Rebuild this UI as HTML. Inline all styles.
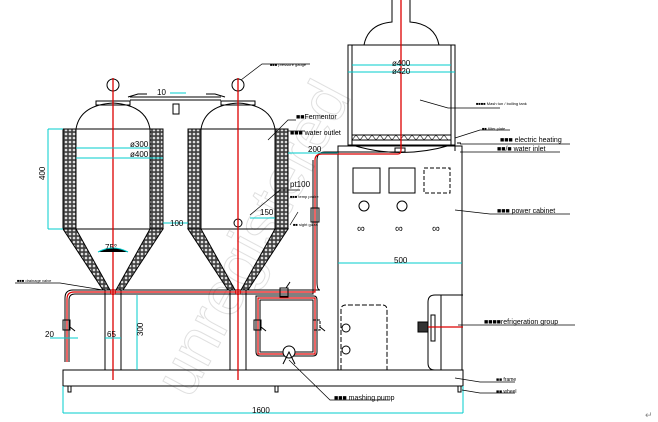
<!DOCTYPE html>
<html><head><meta charset="utf-8"><style>
html,body{margin:0;padding:0;background:#fff;}
svg{display:block;}
text{font-family:"Liberation Sans","Noto Sans CJK SC",sans-serif;}
</style></head><body>
<svg width="658" height="422" viewBox="0 0 658 422" xmlns="http://www.w3.org/2000/svg">
<defs>
<pattern id="hex" width="4" height="4" patternUnits="userSpaceOnUse">
<rect width="4" height="4" fill="#444"/>
<circle cx="2" cy="2" r="1.3" fill="#ddd"/>
</pattern>
</defs>
<text transform="translate(190 400) rotate(-62)" font-size="62" fill="none" stroke="#e0e0e0" stroke-width="1">unregistered</text>
<g fill="none" stroke="#000" stroke-width="1">
<path d="M76 129 Q80 105 113 103 Q146 105 150 129"/>
<rect x="63" y="129" width="13" height="100" fill="url(#hex)"/>
<rect x="150" y="129" width="13" height="100" fill="url(#hex)"/>
<polygon points="63,229 76,229 110,290 103,290" fill="url(#hex)"/>
<polygon points="150,229 163,229 123,290 116,290" fill="url(#hex)"/>
<line x1="76" y1="129" x2="150" y2="129"/><line x1="76" y1="229" x2="150" y2="229"/>
<circle cx="113" cy="85" r="6"/>
<rect x="96" y="101" width="34" height="4"/>
<path d="M201 129 Q205 105 238 103 Q271 105 275 129"/>
<rect x="188" y="129" width="13" height="100" fill="url(#hex)"/>
<rect x="275" y="129" width="13" height="100" fill="url(#hex)"/>
<polygon points="188,229 201,229 235,290 228,290" fill="url(#hex)"/>
<polygon points="275,229 288,229 248,290 241,290" fill="url(#hex)"/>
<line x1="201" y1="129" x2="275" y2="129"/><line x1="201" y1="229" x2="275" y2="229"/>
<circle cx="238" cy="85" r="6"/>
<rect x="221" y="101" width="34" height="4"/>
<circle cx="238" cy="223" r="4"/>
<line x1="130" y1="97" x2="221" y2="97"/><line x1="130" y1="100" x2="221" y2="100"/>
<rect x="173" y="104" width="6" height="10"/>
<path d="M128 97 l10 -3 h9 M225 97 l-10 -3 h-9"/>
<line x1="105" y1="290" x2="105" y2="370"/><line x1="121" y1="290" x2="121" y2="370"/>
<line x1="230" y1="290" x2="230" y2="370"/><line x1="246" y1="290" x2="246" y2="370"/>
<rect x="63" y="370" width="400" height="16"/>
<rect x="68" y="386" width="3" height="6"/><rect x="275" y="386" width="3" height="6"/><rect x="458" y="386" width="3" height="6"/>
<rect x="338" y="146" width="124" height="224"/>
<rect x="353" y="168" width="27" height="25"/><rect x="389" y="168" width="26" height="25"/><rect x="424" y="168" width="26" height="25" stroke-dasharray="4 2"/>
<circle cx="364" cy="206" r="5"/><circle cx="402" cy="206" r="5"/>
<text x="357" y="232" font-size="11" fill="#000" stroke="none">∞</text>
<text x="395" y="232" font-size="11" fill="#000" stroke="none">∞</text>
<text x="432" y="232" font-size="11" fill="#000" stroke="none">∞</text>
<path d="M341 370 V310 Q341 305 346 305 H382 Q387 305 387 310 V370" stroke-dasharray="5 2"/>
<circle cx="346" cy="328" r="4"/><circle cx="346" cy="350" r="4"/>
<path d="M463 295 H435 Q428 295 428 302 V363 Q428 370 435 370 H463"/>
<line x1="441" y1="295" x2="441" y2="370"/>
<rect x="431" y="315" width="4" height="26"/>
<rect x="418" y="322" width="10" height="10" fill="#333"/>
<rect x="348" y="45" width="107" height="100"/>
<line x1="352" y1="45" x2="352" y2="145"/><line x1="451" y1="45" x2="451" y2="145"/>
<path d="M364 45 Q368 24 392 22 V0 M439 45 Q435 24 410 22 V0"/>
<rect x="352" y="135" width="99" height="5"/>
<path d="M352 140 l4 -5 l4 5 l4 -5 l4 5 l4 -5 l4 5 l4 -5 l4 5 l4 -5 l4 5 l4 -5 l4 5 l4 -5 l4 5 l4 -5 l4 5 l4 -5 l4 5 l4 -5 l4 5 l4 -5 l4 5 l4 -5 l4 5" stroke-width="0.6"/>
<path d="M352 145 Q401 160 451 145"/>
<rect x="395" y="148" width="10" height="4"/>
<path d="M455 146 v5 M457 143 h4"/>
<g stroke="#000" stroke-width="1">
<path d="M65 362 V298 Q65 290 73 290 H320 Q317 290 317 282 V160 Q317 152 325 152 H400"/>
<path d="M69 362 V300 Q69 294 75 294 H313 V160"/>
<path d="M256 296 H314 Q317 296 317 300 V352 Q317 356 313 356 H260 Q256 356 256 352 Z"/>
<path d="M260 300 H313 V352 H260 Z"/>
</g>
<g stroke="#d00" stroke-width="1.2">
<path d="M67 362 V299 Q67 292 74 292 H315 V160 Q315 154 322 154 H398 Q401 154 401 150"/>
<path d="M258 298 H315 V354 H258 Z"/>
</g>
<rect x="63" y="320" width="7" height="10"/><line x1="70" y1="327" x2="75" y2="331"/>
<rect x="254" y="320" width="7" height="10"/><line x1="261" y1="327" x2="266" y2="331"/>
<rect x="313" y="320" width="7" height="10" stroke-dasharray="3 1"/><line x1="320" y1="327" x2="325" y2="331"/>
<rect x="280" y="288" width="8" height="9"/><line x1="286" y1="288" x2="290" y2="282"/>
<rect x="311" y="208" width="8" height="14"/>
<circle cx="289" cy="352" r="6" fill="#fff"/>
<path d="M283 364 L289 352 L295 364"/>
</g>
<g stroke="#d00" stroke-width="1.3">
<line x1="113" y1="78" x2="113" y2="380"/><line x1="238" y1="78" x2="238" y2="380"/>
<line x1="401" y1="0" x2="401" y2="150"/>
<line x1="428" y1="327" x2="463" y2="327"/>
</g>
<circle cx="113" cy="292" r="2.5" fill="none" stroke="#d00"/><circle cx="238" cy="292" r="2.5" fill="none" stroke="#d00"/>
<g stroke="#0cc" stroke-width="1">
<line x1="48" y1="129" x2="63" y2="129"/><line x1="48" y1="229" x2="63" y2="229"/><line x1="48" y1="129" x2="48" y2="229"/>
<line x1="76" y1="148" x2="150" y2="148"/><line x1="76" y1="158" x2="163" y2="158"/>
<line x1="163" y1="223" x2="188" y2="223"/>
<path d="M98 252 Q113 244 128 252"/>
<line x1="288" y1="153" x2="338" y2="153"/>
<line x1="250" y1="218" x2="275" y2="218"/>
<line x1="352" y1="65" x2="451" y2="65"/><line x1="348" y1="72" x2="455" y2="72"/>
<line x1="338" y1="263" x2="462" y2="263"/>
<line x1="50" y1="338" x2="78" y2="338"/>
<line x1="105" y1="338" x2="121" y2="338"/>
<line x1="137" y1="295" x2="137" y2="370"/>
<line x1="63" y1="386" x2="63" y2="413"/><line x1="463" y1="386" x2="463" y2="413"/><line x1="63" y1="413" x2="463" y2="413"/>
<line x1="170" y1="93" x2="186" y2="93"/>
</g>
<g stroke="#000" stroke-width="0.7" fill="none">
<path d="M241 80 L262 64 H310"/>
<path d="M268 140 L288 120 H296"/>
<path d="M288 131 H305"/>
<path d="M420 100 L448 108 H500"/>
<path d="M455 138 L480 130 H510"/>
<path d="M460 144 H570"/><path d="M460 152 H560"/>
<path d="M455 210 L490 214 H570"/>
<path d="M458 325 H575"/>
<path d="M289 360 L330 400 H390"/>
<path d="M455 378 L480 382 H515"/><path d="M462 390 L480 393 H515"/>
<path d="M15 283 H60 L103 290"/>
<path d="M250 215 L280 190 H300"/>
<path d="M290 225 L298 212"/>
</g>
<g font-size="7" fill="#000">
<text x="270" y="66" font-size="4">■■■ pressure gauge</text>
<text x="296" y="119">■■Fermentor</text>
<text x="290" y="135">■■■ water outlet</text>
<text x="476" y="105" font-size="4">■■■■ Mash tun / boiling tank</text>
<text x="482" y="130" font-size="4">■■ filter plate</text>
<text x="500" y="142">■■■ electric heating</text>
<text x="497" y="151">■■/■ water inlet</text>
<text x="497" y="213">■■■ power cabinet</text>
<text x="484" y="324">■■■■refrigeration group</text>
<text x="334" y="400">■■■ mashing pump</text>
<text x="496" y="381" font-size="5">■■ frame</text>
<text x="496" y="393" font-size="5">■■ wheel</text>
<text x="17" y="282" font-size="4">■■■ drainage valve</text>
<text x="290" y="187" font-size="8">pt100</text>
<text x="290" y="198" font-size="4">■■■ temp probe</text>
<text x="293" y="226" font-size="4">■■ sight glass</text>
</g>
<g font-size="8" fill="#000">
<text x="157" y="95">10</text>
<text x="130" y="147">ø300</text>
<text x="130" y="157">ø400</text>
<text x="170" y="226">100</text>
<text x="105" y="250">75°</text>
<text x="308" y="152">200</text>
<text x="260" y="215">150</text>
<text x="392" y="66">ø400</text>
<text x="392" y="74">ø420</text>
<text x="394" y="263">500</text>
<text x="45" y="337">20</text>
<text x="107" y="337">65</text>
<text x="252" y="413">1600</text>
<text transform="translate(45 180) rotate(-90)">400</text>
<text transform="translate(143 336) rotate(-90)">300</text>
</g>
<text x="645" y="418" font-size="9" fill="#888">↵</text>
</svg>
</body></html>
